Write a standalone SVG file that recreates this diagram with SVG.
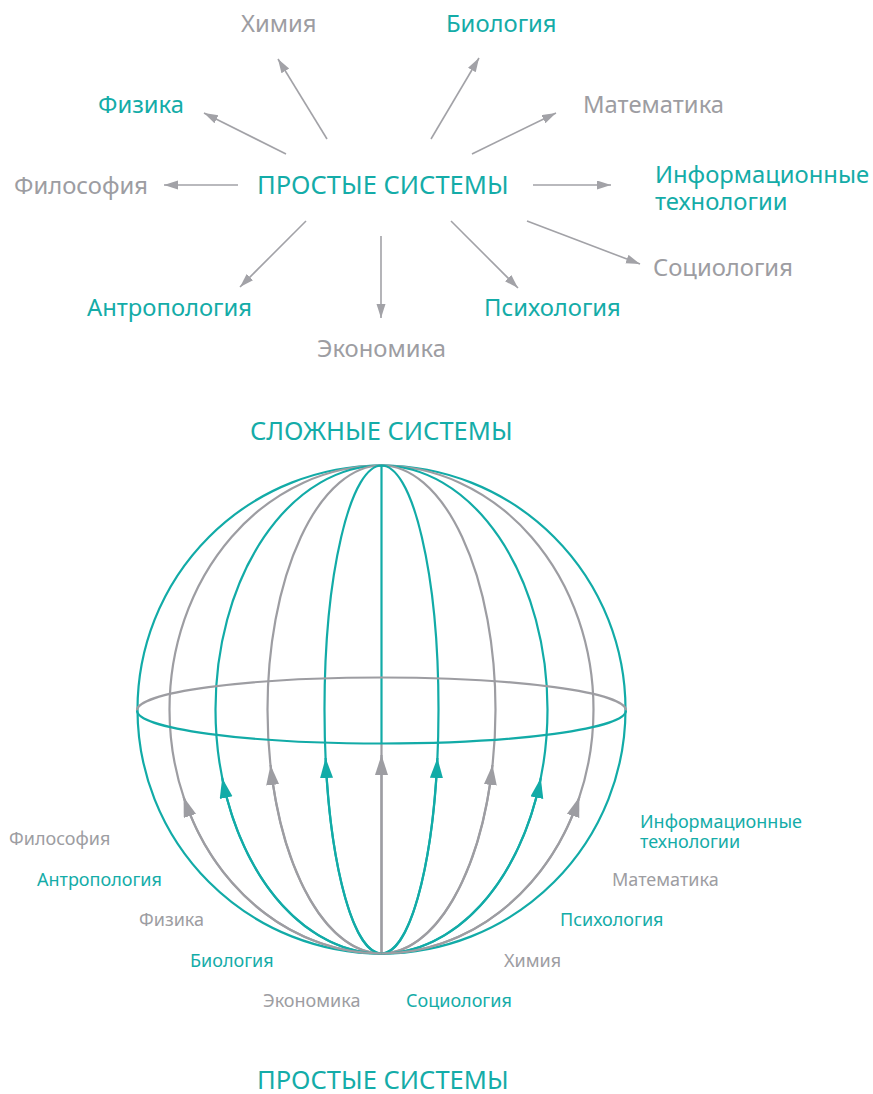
<svg xmlns="http://www.w3.org/2000/svg" width="873" height="1094" viewBox="0 0 873 1094">
  <style>
    text { font-family: "Noto Sans", "Open Sans", sans-serif; }
    .t { fill: #14aca8; }
    .g { fill: #9d9da2; }
    .big { font-size: 25.5px; }
    .lab { font-size: 23.8px; }
    .sm { font-size: 18px; }
    .arr { stroke: #a2a2a7; stroke-width: 1.6; fill: none; marker-end: url(#ah); }
    .mt { stroke: #12aba7; stroke-width: 2.2; fill: none; }
    .mg { stroke: #9d9da2; stroke-width: 2.2; fill: none; }
    .at { marker-end: url(#aht); }
    .ag { marker-end: url(#ahg); }
  </style>
  <defs>
    <marker id="ah" markerUnits="userSpaceOnUse" markerWidth="16" markerHeight="10" refX="14" refY="4.5" orient="auto">
      <path d="M0,0 L14,4.5 L0,9 Z" fill="#a2a2a7"/>
    </marker>
    <marker id="aht" markerUnits="userSpaceOnUse" markerWidth="22" markerHeight="14" refX="20" refY="6.5" orient="auto">
      <path d="M0,0 L20,6.5 L0,13 Z" fill="#12aba7"/>
    </marker>
    <marker id="ahg" markerUnits="userSpaceOnUse" markerWidth="22" markerHeight="14" refX="20" refY="6.5" orient="auto">
      <path d="M0,0 L20,6.5 L0,13 Z" fill="#9d9da2"/>
    </marker>
  </defs>

  <!-- upper scheme: simple systems radiating into disciplines -->
  <g id="simple-top">
    <text class="t big" x="257" y="194">ПРОСТЫЕ СИСТЕМЫ</text>
  </g>
  <g id="d-chem"><text class="g lab" x="241" y="32">Химия</text></g>
  <g id="d-bio"><text class="t lab" x="446" y="32">Биология</text></g>
  <g id="d-phys"><text class="t lab" x="98" y="113">Физика</text></g>
  <g id="d-math"><text class="g lab" x="583" y="113">Математика</text></g>
  <g id="d-philo"><text class="g lab" x="14" y="194">Философия</text></g>
  <g id="d-it">
    <text class="t lab" x="655" y="183">Информационные</text>
    <text class="t lab" x="655" y="210">технологии</text>
  </g>
  <g id="d-soc"><text class="g lab" x="653" y="276">Социология</text></g>
  <g id="d-anthro"><text class="t lab" x="87" y="316">Антропология</text></g>
  <g id="d-psy"><text class="t lab" x="484" y="316">Психология</text></g>
  <g id="d-econ"><text class="g lab" x="317" y="357">Экономика</text></g>

  <g id="connectors">
    <line class="arr" x1="327" y1="139" x2="278" y2="59"/>
    <line class="arr" x1="431" y1="139" x2="479" y2="58"/>
    <line class="arr" x1="286" y1="154" x2="204" y2="113"/>
    <line class="arr" x1="472" y1="154" x2="556" y2="113"/>
    <line class="arr" x1="238" y1="185" x2="164" y2="185"/>
    <line class="arr" x1="533" y1="185" x2="611" y2="185"/>
    <line class="arr" x1="306" y1="221" x2="240" y2="287"/>
    <line class="arr" x1="381" y1="236" x2="381" y2="318"/>
    <line class="arr" x1="451" y1="221" x2="518" y2="288"/>
    <line class="arr" x1="527" y1="221" x2="640" y2="264"/>
  </g>

  <!-- lower scheme: sphere of complex systems -->
  <g id="complex-title">
    <text class="t big" x="250" y="440">СЛОЖНЫЕ СИСТЕМЫ</text>
  </g>

  <g id="sphere">
    <circle class="mt" cx="381.5" cy="709.5" r="244"/>
    <ellipse class="mg" cx="381.5" cy="709.5" rx="212" ry="244"/>
    <ellipse class="mt" cx="381.5" cy="709.5" rx="166" ry="244"/>
    <ellipse class="mg" cx="381.5" cy="709.5" rx="114" ry="244"/>
    <ellipse class="mt" cx="381.5" cy="709.5" rx="57" ry="244"/>
    <line class="mt" x1="381.5" y1="465.5" x2="381.5" y2="743.5"/>
    <line class="mg" x1="381.5" y1="743.5" x2="381.5" y2="953.5"/>
    <!-- equator: back half grey, front half teal -->
    <path class="mg" d="M137,710.5 A244.5,33 0 0 1 626,710.5"/>
    <path class="mt" d="M137,710.5 A244.5,33 0 0 0 626,710.5"/>
  </g>

  <g id="sphere-arrows">
    <path class="mg ag" d="M381.5,953.5 V755"/>
    <path class="mt at" d="M381.5,953.5 A57,244 0 0 1 325.6,758"/>
    <path class="mt at" d="M381.5,953.5 A57,244 0 0 0 437.4,758"/>
    <path class="mg ag" d="M381.5,953.5 A114,244 0 0 1 270.5,765"/>
    <path class="mg ag" d="M381.5,953.5 A114,244 0 0 0 492.5,765"/>
    <path class="mt at" d="M381.5,953.5 A166,244 0 0 1 222.2,778"/>
    <path class="mt at" d="M381.5,953.5 A166,244 0 0 0 540.8,778"/>
    <path class="mg ag" d="M381.5,953.5 A212,244 0 0 1 183.6,797"/>
    <path class="mg ag" d="M381.5,953.5 A212,244 0 0 0 579.4,797"/>
  </g>

  <g id="s-philo"><text class="g sm" x="9" y="845">Философия</text></g>
  <g id="s-anthro"><text class="t sm" x="37" y="886">Антропология</text></g>
  <g id="s-phys"><text class="g sm" x="139" y="926">Физика</text></g>
  <g id="s-bio"><text class="t sm" x="190" y="967">Биология</text></g>
  <g id="s-econ"><text class="g sm" x="263" y="1007">Экономика</text></g>
  <g id="s-soc"><text class="t sm" x="406" y="1007">Социология</text></g>
  <g id="s-chem"><text class="g sm" x="504" y="967">Химия</text></g>
  <g id="s-psy"><text class="t sm" x="560" y="926">Психология</text></g>
  <g id="s-math"><text class="g sm" x="612" y="886">Математика</text></g>
  <g id="s-it">
    <text class="t sm" x="640" y="828">Информационные</text>
    <text class="t sm" x="640" y="848">технологии</text>
  </g>

  <g id="simple-bottom">
    <text class="t big" x="257" y="1089">ПРОСТЫЕ СИСТЕМЫ</text>
  </g>
</svg>
